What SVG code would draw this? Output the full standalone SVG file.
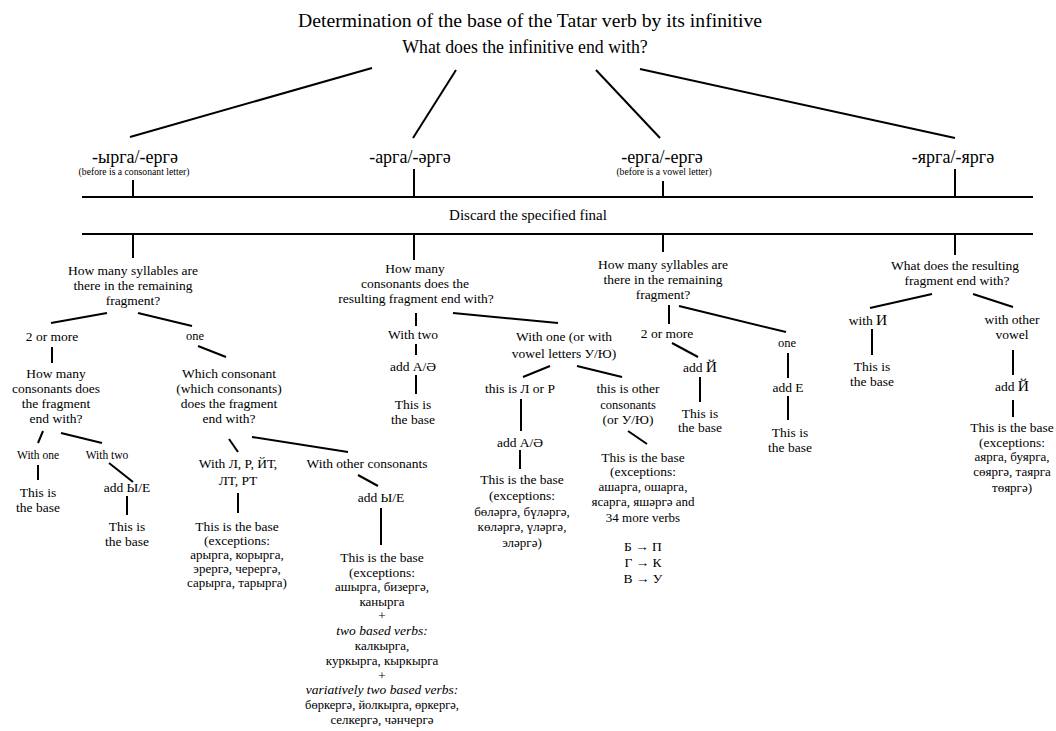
<svg xmlns="http://www.w3.org/2000/svg" width="1056" height="731" viewBox="0 0 1056 731" font-family="'Liberation Serif', 'DejaVu Serif', serif">
<style>
text{font-family:'Liberation Serif','DejaVu Serif',serif;fill:#000;text-anchor:middle;font-size:13.5px}
.title{font-size:19.7px}
.q0{font-size:17.8px}
.fin{font-size:18px}
.note{font-size:9.7px}
.disc{font-size:15px}
.s{font-size:13px}
.xs{font-size:11.5px}
.i{font-style:italic}
.big{font-size:15.5px}
#connectors line{stroke:#000;stroke-width:2;fill:none}
</style>
<rect width="1056" height="731" fill="#fff"/>
<g id="connectors">
<line x1="372" y1="68" x2="130" y2="137"/>
<line x1="456" y1="70" x2="413" y2="138"/>
<line x1="596" y1="70" x2="660" y2="138"/>
<line x1="640" y1="69" x2="955" y2="138"/>
<line x1="133" y1="180" x2="133" y2="197"/>
<line x1="414" y1="169" x2="414" y2="197"/>
<line x1="663" y1="181" x2="663" y2="197"/>
<line x1="955" y1="169" x2="955" y2="197"/>
<line x1="82" y1="197" x2="1033" y2="197"/>
<line x1="82" y1="234" x2="1033" y2="234"/>
<line x1="133" y1="234" x2="133" y2="258"/>
<line x1="414" y1="234" x2="414" y2="260"/>
<line x1="663" y1="234" x2="663" y2="252"/>
<line x1="955" y1="234" x2="955" y2="255"/>
<line x1="107" y1="313" x2="51" y2="323"/>
<line x1="138" y1="313" x2="192" y2="326"/>
<line x1="52" y1="347" x2="52" y2="363"/>
<line x1="198" y1="346" x2="226" y2="357"/>
<line x1="43" y1="431" x2="38" y2="443"/>
<line x1="61" y1="433" x2="102" y2="443"/>
<line x1="38" y1="465" x2="38" y2="480"/>
<line x1="109" y1="463" x2="133" y2="482"/>
<line x1="127" y1="496" x2="127" y2="515"/>
<line x1="229" y1="439" x2="238" y2="452"/>
<line x1="252" y1="437" x2="348" y2="452"/>
<line x1="238" y1="493" x2="238" y2="513"/>
<line x1="358" y1="475" x2="378" y2="486"/>
<line x1="381" y1="508" x2="381" y2="545"/>
<line x1="416" y1="313" x2="416" y2="326"/>
<line x1="416" y1="344" x2="416" y2="355"/>
<line x1="416" y1="375" x2="416" y2="394"/>
<line x1="453" y1="313" x2="558" y2="323"/>
<line x1="550" y1="366" x2="523" y2="377"/>
<line x1="577" y1="366" x2="622" y2="377"/>
<line x1="521" y1="399" x2="521" y2="431"/>
<line x1="520" y1="450" x2="520" y2="469"/>
<line x1="628" y1="431" x2="647" y2="444"/>
<line x1="669" y1="305" x2="669" y2="324"/>
<line x1="679" y1="306" x2="786" y2="332"/>
<line x1="672" y1="343" x2="698" y2="357"/>
<line x1="700" y1="377" x2="700" y2="402"/>
<line x1="788" y1="353" x2="788" y2="378"/>
<line x1="788" y1="396" x2="788" y2="420"/>
<line x1="932" y1="294" x2="870" y2="308"/>
<line x1="973" y1="294" x2="1013" y2="307"/>
<line x1="872" y1="329" x2="872" y2="355"/>
<line x1="1013" y1="350" x2="1013" y2="375"/>
<line x1="1013" y1="400" x2="1013" y2="417"/>
</g>
<g id="title"><text class="title" x="530" y="27">Determination of the base of the Tatar verb by its infinitive</text></g>
<g id="q0"><text class="q0" x="525" y="53">What does the infinitive end with?</text></g>
<g id="f1"><text class="fin" x="135" y="163">-ырга/-ергә</text><text class="note" x="134" y="175">(before is a consonant letter)</text></g>
<g id="f2"><text class="fin" x="410" y="163">-арга/-әргә</text></g>
<g id="f3"><text class="fin" x="662" y="163">-ерга/-ергә</text><text class="note" x="664" y="175">(before is a vowel letter)</text></g>
<g id="f4"><text class="fin" x="953" y="163">-ярга/-яргә</text></g>
<g id="discard"><text class="disc" x="528" y="220">Discard the specified final</text></g>

<g id="l_q1"><text x="133"><tspan x="133" y="275">How many syllables are</tspan><tspan x="133" y="290">there in the remaining</tspan><tspan x="133" y="305">fragment?</tspan></text></g>
<g id="l_2more"><text x="52" y="341">2 or more</text></g>
<g id="l_one"><text class="s" x="195" y="340" style="font-size:12.5px">one</text></g>
<g id="l_q2"><text><tspan x="56" y="378">How many</tspan><tspan x="56" y="393">consonants does</tspan><tspan x="56" y="408">the fragment</tspan><tspan x="56" y="423">end with?</tspan></text></g>
<g id="l_withone"><text class="xs" x="38" y="459">With one</text></g>
<g id="l_withtwo"><text class="xs" x="107" y="459">With two</text></g>
<g id="l_base1"><text><tspan x="38" y="497">This is</tspan><tspan x="38" y="512">the base</tspan></text></g>
<g id="l_addye"><text x="127" y="492">add Ы/Е</text></g>
<g id="l_base2"><text><tspan x="127" y="531">This is</tspan><tspan x="127" y="546">the base</tspan></text></g>
<g id="l_q3"><text><tspan x="229" y="378">Which consonant</tspan><tspan x="229" y="393">(which consonants)</tspan><tspan x="229" y="408">does the fragment</tspan><tspan x="229" y="423">end with?</tspan></text></g>
<g id="l_lr"><text><tspan x="238" y="468">With Л, Р, ЙТ,</tspan><tspan x="238" y="485">ЛТ, РТ</tspan></text></g>
<g id="l_base3"><text class="s"><tspan x="237" y="531" style="font-size:13.5px">This is the base</tspan><tspan x="237" y="545" style="font-size:13.5px">(exceptions:</tspan><tspan x="237" y="559">арырга, корырга,</tspan><tspan x="237" y="573">эрергә, черергә,</tspan><tspan x="237" y="587">сарырга, тарырга)</tspan></text></g>
<g id="l_other"><text x="367" y="468">With other consonants</text></g>
<g id="l_addye2"><text x="381" y="502">add Ы/Е</text></g>
<g id="l_base4"><text class="s"><tspan x="382" y="562" style="font-size:13.5px">This is the base</tspan><tspan x="382" y="577" style="font-size:13.5px">(exceptions:</tspan><tspan x="382" y="591">ашырга, бизергә,</tspan><tspan x="382" y="606">канырга</tspan><tspan x="382" y="620">+</tspan><tspan x="382" y="635" class="i" style="font-size:13.5px">two based verbs:</tspan><tspan x="382" y="650">калкырга,</tspan><tspan x="382" y="665">куркырга, кыркырга</tspan><tspan x="382" y="680">+</tspan><tspan x="382" y="694" class="i" style="font-size:13.5px">variatively two based verbs:</tspan><tspan x="382" y="709" style="font-size:12.5px">бөркергә, йолкырга, өркергә,</tspan><tspan x="382" y="724">селкергә, чәнчергә</tspan></text></g>

<g id="m_q1"><text><tspan x="415" y="273">How many</tspan><tspan x="415" y="288">consonants does the</tspan><tspan x="416" y="303">resulting fragment end with?</tspan></text></g>
<g id="m_two"><text x="413" y="339">With two</text></g>
<g id="m_adda"><text x="413" y="371">add А/Ә</text></g>
<g id="m_base1"><text><tspan x="413" y="409">This is</tspan><tspan x="413" y="424">the base</tspan></text></g>
<g id="m_one"><text><tspan x="564" y="341">With one (or with</tspan><tspan x="564" y="358">vowel letters У/Ю)</tspan></text></g>
<g id="m_lr"><text x="520" y="393">this is Л or Р</text></g>
<g id="m_adda2"><text x="520" y="447">add А/Ә</text></g>
<g id="m_base2"><text class="s"><tspan x="522" y="484" style="font-size:13.5px">This is the base</tspan><tspan x="522" y="500" style="font-size:13.5px">(exceptions:</tspan><tspan x="522" y="516">бөләргә, бүләргә,</tspan><tspan x="522" y="531">көләргә, үләргә,</tspan><tspan x="522" y="547">эләргә)</tspan></text></g>
<g id="m_other"><text><tspan x="628" y="393">this is other</tspan><tspan x="628" y="409" style="font-size:12.5px">consonants</tspan><tspan x="628" y="424">(or У/Ю)</tspan></text></g>
<g id="m_base3"><text class="s"><tspan x="643" y="462" style="font-size:13.5px">This is the base</tspan><tspan x="643" y="476" style="font-size:13.5px">(exceptions:</tspan><tspan x="643" y="491">ашарга, ошарга,</tspan><tspan x="643" y="506">ясарга, яшәргә and</tspan><tspan x="643" y="522">34 more verbs</tspan></text></g>
<g id="m_shift"><text><tspan x="643" y="551">Б → П</tspan><tspan x="643" y="567">Г → К</tspan><tspan x="643" y="583">В → У</tspan></text></g>

<g id="r1_q"><text><tspan x="663" y="269">How many syllables are</tspan><tspan x="663" y="284">there in the remaining</tspan><tspan x="663" y="299">fragment?</tspan></text></g>
<g id="r1_2more"><text x="667" y="338">2 or more</text></g>
<g id="r1_one"><text x="787" y="347" style="font-size:12.5px">one</text></g>
<g id="r1_addy"><text x="700" y="372">add <tspan class="big">Й</tspan></text></g>
<g id="r1_base1"><text><tspan x="700" y="418">This is</tspan><tspan x="700" y="432">the base</tspan></text></g>
<g id="r1_adde"><text x="788" y="392">add Е</text></g>
<g id="r1_base2"><text><tspan x="790" y="437">This is</tspan><tspan x="790" y="452">the base</tspan></text></g>

<g id="r2_q"><text><tspan x="955" y="270">What does the resulting</tspan><tspan x="957" y="285">fragment end with?</tspan></text></g>
<g id="r2_i"><text x="868" y="325">with <tspan class="big">И</tspan></text></g>
<g id="r2_other"><text><tspan x="1012" y="324">with other</tspan><tspan x="1012" y="339">vowel</tspan></text></g>
<g id="r2_base1"><text><tspan x="872" y="371">This is</tspan><tspan x="872" y="386">the base</tspan></text></g>
<g id="r2_addy"><text x="1012" y="391">add <tspan class="big">Й</tspan></text></g>
<g id="r2_base2"><text class="s"><tspan x="1012" y="432" style="font-size:13.5px">This is the base</tspan><tspan x="1012" y="447" style="font-size:13.5px">(exceptions:</tspan><tspan x="1012" y="461">аярга, буярга,</tspan><tspan x="1012" y="476">сөяргә, таярга</tspan><tspan x="1012" y="492">төяргә)</tspan></text></g>
</svg>
